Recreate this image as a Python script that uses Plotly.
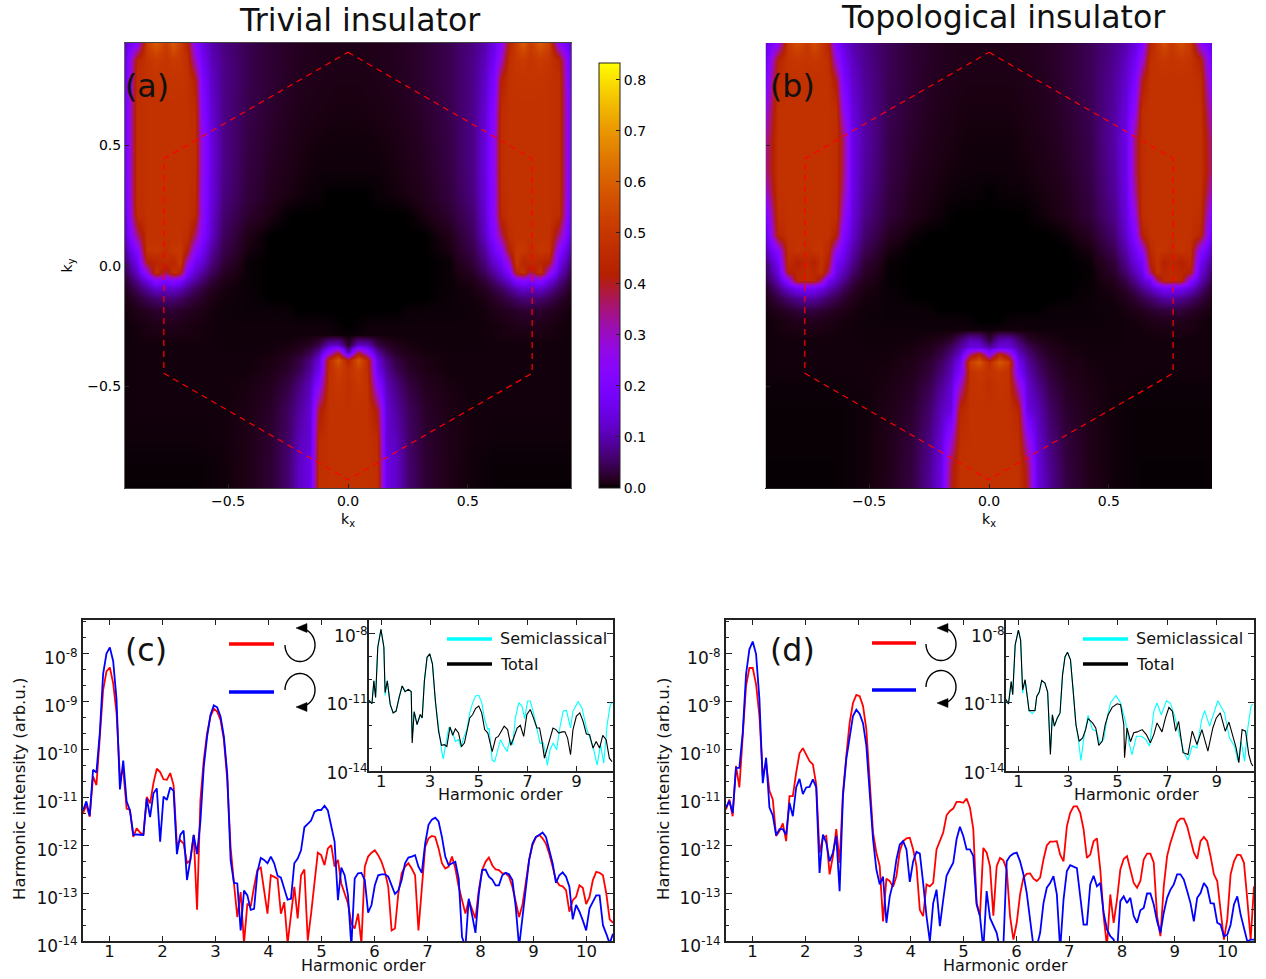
import math
import numpy as np
import plotly.graph_objects as go

W, H = 1266, 979
FONT = "DejaVu Sans"

# ---------- k-space maps (half planes, mirrored about kx = 0) ----------
kx_half = [0, .04, .08, .12, .16, .2, .25, .32, .42, .52, .57, .61, .64, .67, .7, .73, .76, .8, .84, .88, .93]
ky_a = [.925, .855, .772, .647, .523, .398, .295, .212, .129, .066, .017, -.025, -.058, -.091, -.133, -.183, -.245, -.286, -.328, -.357, -.39, -.432, -.494, -.598, -.722, -.826, -.921]
z_a = [
 [.012,.012,.012,.013,.014,.016,.020,.026,.042,.070,.100,.150,.230,.430,.520,.590,.510,.590,.520,.230,.130],
 [.011,.011,.012,.013,.014,.016,.020,.026,.042,.075,.110,.170,.300,.470,.500,.510,.490,.510,.490,.440,.140],
 [.010,.010,.011,.012,.013,.015,.019,.026,.042,.075,.120,.200,.420,.480,.490,.490,.490,.490,.480,.470,.150],
 [.008,.008,.009,.010,.011,.013,.017,.024,.040,.075,.130,.230,.460,.480,.480,.480,.480,.480,.480,.470,.170],
 [.006,.006,.006,.007,.008,.010,.014,.021,.037,.075,.140,.260,.470,.480,.480,.480,.480,.480,.480,.470,.170],
 [.005,.005,.005,.005,.006,.008,.012,.018,.035,.075,.140,.260,.470,.480,.480,.480,.480,.480,.480,.470,.170],
 [0,0,0,.003,.004,.006,.009,.015,.032,.070,.140,.250,.460,.480,.480,.480,.480,.480,.480,.470,.160],
 [0,0,0,0,0,0,.001,.009,.025,.060,.130,.250,.450,.480,.480,.480,.480,.480,.480,.460,.140],
 [0,0,0,0,0,0,0,0,.012,.050,.120,.220,.360,.470,.480,.480,.480,.480,.480,.350,.120],
 [0,0,0,0,0,0,0,0,.008,.040,.090,.170,.240,.420,.500,.500,.470,.500,.490,.220,.090],
 [0,0,0,0,0,0,0,0,.003,.030,.070,.130,.170,.300,.500,.440,.460,.440,.420,.160,.060],
 [0,0,0,0,0,0,0,0,.003,.020,.050,.090,.130,.200,.440,.480,.380,.480,.280,.120,.040],
 [0,0,0,0,0,0,0,0,.003,.012,.030,.060,.090,.130,.200,.240,.200,.240,.150,.080,.025],
 [0,0,0,0,0,0,0,0,.003,.008,.018,.035,.050,.080,.110,.130,.120,.130,.090,.050,.016],
 [0,0,0,0,0,0,0,0,.004,.006,.010,.020,.028,.040,.055,.065,.065,.060,.045,.025,.010],
 [0,0,0,0,0,0,.003,.004,.004,.005,.007,.011,.014,.018,.022,.026,.026,.024,.018,.012,.006],
 [0,.002,.004,.005,.005,.005,.005,.005,.005,.005,.006,.007,.008,.010,.012,.013,.013,.012,.010,.007,.005],
 [.003,.005,.006,.006,.006,.005,.005,.005,.005,.005,.006,.007,.008,.008,.009,.009,.009,.009,.008,.007,.005],
 [.020,.120,.110,.040,.020,.012,.008,.006,.005,.005,.006,.006,.006,.006,.006,.006,.006,.006,.006,.006,.005],
 [.090,.380,.250,.090,.040,.020,.011,.007,.006,.006,.006,.006,.006,.006,.006,.006,.006,.006,.006,.006,.005],
 [.420,.580,.460,.140,.070,.035,.018,.009,.006,.006,.006,.006,.006,.006,.006,.006,.006,.006,.006,.006,.005],
 [.480,.520,.470,.160,.085,.045,.022,.011,.006,.006,.006,.006,.006,.006,.006,.006,.006,.006,.006,.006,.005],
 [.470,.500,.480,.240,.110,.070,.035,.016,.008,.006,.006,.006,.006,.006,.006,.006,.006,.006,.006,.006,.005],
 [.480,.480,.480,.400,.130,.090,.050,.022,.010,.006,.006,.006,.006,.006,.006,.006,.006,.006,.006,.006,.005],
 [.480,.480,.480,.460,.130,.110,.055,.025,.011,.006,.006,.005,.005,.005,.005,.005,.005,.005,.005,.005,.005],
 [.480,.480,.480,.470,.150,.120,.060,.027,.011,.005,.004,.003,.003,.003,.003,.003,.003,.003,.003,.003,.003],
 [.480,.480,.480,.480,.150,.120,.060,.027,.011,.005,.004,.003,.002,.002,.002,.002,.002,.002,.002,.002,.002],
]
ky_b = [.925, .855, .772, .647, .523, .398, .315, .212, .129, .066, .017, -.025, -.058, -.091, -.133, -.183, -.224, -.266, -.307, -.336, -.365, -.398, -.44, -.494, -.598, -.722, -.826, -.921]
z_b = [
 [.012,.012,.012,.013,.014,.016,.020,.027,.045,.075,.100,.140,.200,.430,.500,.560,.500,.560,.500,.250,.140],
 [.011,.011,.012,.013,.014,.016,.020,.027,.045,.080,.115,.170,.280,.470,.490,.500,.490,.500,.490,.430,.160],
 [.010,.010,.010,.011,.013,.015,.019,.027,.045,.085,.125,.200,.400,.480,.480,.480,.480,.480,.480,.470,.200],
 [.008,.008,.008,.009,.011,.013,.017,.025,.043,.090,.140,.260,.470,.480,.480,.480,.480,.480,.480,.480,.280],
 [.006,.006,.006,.007,.009,.011,.015,.022,.040,.095,.150,.360,.470,.480,.480,.480,.480,.480,.480,.480,.340],
 [.005,.005,.005,.006,.007,.009,.012,.019,.038,.090,.150,.360,.470,.480,.480,.480,.480,.480,.480,.480,.350],
 [.001,.003,.004,.004,.005,.007,.010,.016,.035,.085,.150,.340,.470,.480,.480,.480,.480,.480,.480,.480,.300],
 [0,0,0,0,.001,.004,.007,.013,.030,.075,.140,.280,.470,.480,.480,.480,.480,.480,.480,.470,.200],
 [0,0,0,0,0,0,0,.004,.018,.060,.125,.220,.420,.480,.480,.480,.480,.480,.480,.440,.140],
 [0,0,0,0,0,0,0,0,.008,.045,.100,.170,.260,.450,.490,.490,.470,.490,.470,.240,.100],
 [0,0,0,0,0,0,0,0,.003,.030,.080,.140,.180,.420,.480,.420,.450,.420,.460,.170,.070],
 [0,0,0,0,0,0,0,0,.002,.022,.060,.110,.150,.360,.480,.440,.460,.440,.420,.140,.050],
 [0,0,0,0,0,0,0,0,.002,.015,.040,.080,.120,.170,.360,.450,.460,.450,.240,.110,.035],
 [0,0,0,0,0,0,0,0,.003,.010,.025,.050,.080,.110,.150,.180,.180,.170,.130,.070,.020],
 [0,0,0,0,0,0,0,.001,.004,.007,.014,.025,.040,.055,.075,.090,.095,.080,.060,.035,.012],
 [0,0,0,0,0,0,.003,.004,.004,.005,.008,.012,.016,.022,.028,.032,.032,.030,.022,.014,.007],
 [0,0,.003,.004,.004,.004,.004,.004,.004,.005,.006,.007,.009,.011,.013,.015,.015,.014,.011,.008,.005],
 [.004,.006,.006,.006,.005,.005,.005,.005,.005,.005,.006,.006,.007,.008,.009,.010,.010,.010,.009,.007,.005],
 [.030,.100,.110,.060,.024,.014,.009,.006,.005,.005,.006,.006,.006,.006,.006,.006,.006,.006,.006,.006,.005],
 [.090,.140,.140,.090,.050,.026,.014,.008,.006,.006,.006,.006,.006,.006,.006,.006,.006,.006,.006,.006,.005],
 [.240,.440,.340,.120,.070,.035,.018,.009,.006,.006,.006,.006,.006,.006,.006,.006,.006,.006,.006,.006,.005],
 [.460,.580,.520,.170,.090,.050,.025,.012,.007,.006,.006,.006,.006,.006,.006,.006,.006,.006,.006,.006,.005],
 [.480,.500,.480,.200,.105,.062,.030,.014,.008,.006,.006,.006,.006,.006,.006,.006,.006,.006,.006,.006,.005],
 [.470,.490,.480,.300,.125,.080,.040,.018,.009,.006,.006,.005,.005,.004,.004,.004,.004,.004,.004,.004,.004],
 [.480,.480,.480,.440,.145,.110,.055,.024,.011,.005,.004,.003,.003,.003,.003,.003,.003,.003,.003,.003,.003],
 [.480,.480,.480,.470,.280,.130,.070,.030,.012,.005,.004,.003,.003,.003,.003,.003,.003,.003,.003,.003,.003],
 [.480,.480,.480,.480,.380,.140,.080,.033,.012,.005,.004,.003,.002,.002,.002,.002,.002,.002,.002,.002,.002],
 [.480,.480,.480,.480,.400,.145,.085,.035,.013,.005,.004,.003,.002,.002,.002,.002,.002,.002,.002,.002,.002],
]
hex_kx = [0, .768, .768, 0, -.768, -.768, 0]
hex_ky = [.887, .445, -.445, -.887, -.445, .445, .887]

# ---------- harmonic spectra: log10(intensity), evenly spaced over orders 0.5-10.5 ----------
c_red = [-11.34,-11.17,-11.41,-10.57,-10.75,-9.74,-8.77,-8.38,-8.30,-8.63,-9.25,-10.57,-10.44,-11.24,-11.27,-11.83,-11.65,-11.74,-11.79,-11.0,-11.13,-10.71,-10.41,-10.48,-10.63,-10.64,-10.5,-10.75,-12.0,-11.9,-11.97,-12.38,-12.31,-11.79,-13.35,-11.06,-10.23,-9.67,-9.32,-9.16,-9.22,-9.39,-9.81,-10.64,-12.04,-12.8,-13.5,-12.98,-14.05,-13.22,-13.28,-12.87,-12.52,-12.47,-12.91,-13.43,-12.63,-12.66,-12.7,-13.43,-13.19,-14.05,-13.43,-12.87,-13.53,-12.63,-12.51,-13.99,-13.43,-12.8,-12.16,-12.21,-12.42,-12.07,-12.0,-12.45,-12.31,-12.8,-13.01,-13.22,-13.64,-13.74,-13.43,-14.05,-12.45,-12.24,-12.16,-12.11,-12.21,-12.35,-12.56,-12.87,-13.78,-13.74,-13.01,-12.59,-12.45,-12.38,-12.49,-12.63,-13.78,-12.94,-12.04,-11.86,-11.81,-11.83,-12.07,-12.38,-12.49,-12.45,-12.24,-12.49,-12.87,-13.15,-13.43,-13.15,-13.36,-13.53,-12.94,-12.52,-12.35,-12.26,-12.42,-12.51,-12.52,-12.59,-12.59,-12.66,-12.87,-13.19,-13.5,-13.25,-12.73,-12.31,-12.0,-11.84,-11.79,-11.86,-11.97,-12.18,-12.45,-12.73,-12.84,-12.86,-12.94,-13.39,-13.15,-13.08,-12.84,-12.89,-13.23,-13.08,-12.73,-12.56,-12.58,-12.63,-13.01,-13.55,-13.62]
c_blue = [-11.28,-11.09,-11.39,-10.43,-10.49,-9.67,-8.43,-8.01,-7.88,-8.17,-8.97,-10.84,-10.24,-11.09,-11.28,-11.79,-11.78,-11.79,-11.79,-11.03,-11.42,-10.92,-10.82,-11.93,-10.99,-11.06,-10.80,-10.87,-12.19,-11.79,-11.70,-12.73,-12.31,-11.79,-12.19,-11.51,-10.37,-9.74,-9.29,-9.09,-9.13,-9.32,-9.74,-10.51,-12.31,-12.79,-12.80,-13.78,-12.95,-13.05,-13.35,-13.33,-12.56,-12.27,-12.31,-12.38,-12.24,-12.38,-12.64,-12.68,-12.94,-13.14,-13.12,-12.38,-12.28,-12.11,-11.63,-11.56,-11.49,-11.31,-11.27,-11.27,-11.18,-11.28,-11.62,-11.93,-13.15,-12.47,-12.63,-13.05,-14.12,-12.70,-12.59,-12.58,-12.73,-13.41,-13.25,-12.84,-12.63,-12.61,-12.61,-12.66,-12.84,-13.02,-12.95,-12.73,-12.38,-12.26,-12.24,-12.21,-12.45,-12.58,-11.97,-11.58,-11.47,-11.43,-11.51,-11.83,-12.24,-12.42,-12.38,-12.35,-12.70,-13.92,-14.12,-13.12,-13.46,-13.83,-13.01,-12.52,-12.51,-12.66,-12.72,-12.84,-12.84,-12.63,-12.58,-12.61,-12.73,-13.29,-14.12,-13.5,-12.8,-12.31,-11.97,-11.83,-11.79,-11.74,-11.83,-12.11,-12.38,-12.79,-12.63,-12.57,-12.66,-12.87,-13.55,-13.25,-13.39,-13.57,-13.78,-13.32,-13.18,-13.05,-13.05,-13.67,-13.85,-14.05,-13.85]
d_red = [-11.26,-11.05,-11.4,-10.35,-10.8,-9.76,-8.68,-8.31,-8.31,-8.65,-9.31,-10.56,-10.28,-10.87,-11.05,-11.81,-11.71,-11.55,-11.92,-10.98,-10.98,-10.49,-10.09,-9.98,-10.11,-10.25,-10.32,-10.74,-12.16,-11.85,-11.81,-12.61,-12.23,-11.67,-12.37,-10.91,-10.14,-9.45,-9.04,-8.87,-8.9,-9.1,-9.59,-10.56,-11.74,-12.16,-12.44,-13.59,-12.7,-12.75,-12.87,-12.65,-12.13,-11.92,-11.86,-11.85,-12.09,-12.44,-13.35,-13.48,-12.82,-12.86,-12.79,-12.09,-11.92,-11.74,-11.38,-11.29,-11.24,-11.1,-11.1,-11.12,-11.03,-11.22,-11.67,-13.21,-13.48,-12.06,-12.16,-12.44,-13.47,-12.44,-12.27,-12.32,-12.51,-13.48,-13.97,-13.62,-13.03,-12.68,-12.6,-12.59,-12.7,-12.75,-12.68,-12.3,-12.01,-11.93,-11.93,-11.92,-12.2,-12.34,-11.61,-11.33,-11.2,-11.19,-11.33,-11.67,-12.27,-12.2,-11.92,-11.86,-12.51,-13.48,-14.11,-13.03,-13.62,-13.14,-12.51,-12.29,-12.23,-12.54,-12.79,-12.89,-12.75,-12.3,-12.18,-12.18,-12.37,-13.48,-13.9,-12.86,-12.23,-11.95,-11.71,-11.52,-11.45,-11.45,-11.61,-11.88,-12.16,-12.29,-11.92,-11.83,-11.92,-12.23,-12.61,-12.75,-13.35,-13.97,-13.55,-12.61,-12.34,-12.2,-12.21,-12.37,-13.14,-13.97,-12.86]
d_blue = [-11.22,-11.08,-11.33,-10.39,-10.39,-9.66,-8.44,-7.92,-7.76,-8.02,-8.96,-10.71,-10.18,-11.22,-11.38,-11.80,-11.67,-11.67,-11.78,-11.12,-11.40,-10.8,-10.62,-10.94,-10.8,-10.79,-10.63,-10.8,-12.58,-11.78,-11.95,-12.34,-12.16,-11.81,-12.96,-10.98,-10.21,-9.73,-9.31,-9.18,-9.27,-9.46,-9.93,-10.91,-11.88,-12.51,-12.82,-12.66,-13.62,-13.07,-12.79,-12.30,-11.99,-11.92,-12.09,-12.77,-12.34,-12.14,-12.18,-12.79,-13.48,-14.01,-13.21,-12.93,-13.69,-13.14,-12.64,-12.5,-12.37,-11.88,-11.62,-11.81,-12.09,-12.09,-12.23,-13.24,-13.48,-14.18,-12.96,-13.52,-13.66,-13.83,-14.18,-14.11,-12.34,-12.23,-12.18,-12.16,-12.34,-12.61,-13.0,-13.55,-14.11,-14.11,-13.83,-13.21,-12.89,-12.79,-12.65,-13.03,-14.18,-13.14,-12.54,-12.42,-12.45,-12.48,-13.07,-13.66,-13.66,-12.82,-12.64,-12.86,-12.79,-13.41,-13.76,-13.9,-13.97,-14.25,-13.17,-13.07,-13.21,-13.1,-13.48,-13.62,-13.36,-13.31,-13.01,-13.01,-13.24,-13.59,-13.83,-13.41,-13.1,-12.93,-12.82,-12.61,-12.61,-12.72,-12.96,-13.21,-13.59,-13.1,-13.0,-12.79,-12.89,-13.21,-13.22,-13.62,-13.66,-13.9,-13.87,-13.66,-13.24,-13.07,-13.45,-13.73,-14.01,-13.97,-13.97]

# ---------- inset spectra ----------
ci_total_x = [.50,.62,.70,.77,.86,.99,1.11,1.16,1.25,1.37,1.49,1.61,1.74,1.86,1.98,2.11,2.23,2.27,2.35,2.47,2.60,2.68,2.77,2.88,2.99,3.10,3.22,3.35,3.47,3.59,3.69,3.82,3.93,4.04,4.17,4.29,4.41,4.51,4.63,4.75,4.87,5.0,5.12,5.24,5.37,5.55,5.69,5.8,5.92,6.04,6.18,6.31,6.43,6.57,6.7,6.84,6.97,7.11,7.24,7.38,7.49,7.58,7.69,7.8,7.92,8.04,8.16,8.28,8.41,8.53,8.64,8.76,8.86,9.0,9.14,9.27,9.41,9.54,9.68,9.81,9.95,10.08,10.22,10.35,10.46]
ci_total_y = [-10.91,-11.06,-10.06,-10.79,-8.59,-7.81,-8.59,-10.57,-10.06,-11.09,-11.46,-11.38,-10.76,-10.28,-10.53,-10.43,-10.53,-12.78,-11.41,-11.97,-11.53,-11.68,-10.06,-9.03,-8.88,-9.32,-10.94,-12.26,-12.88,-12.85,-12.93,-12.07,-12.44,-12.16,-12.34,-12.93,-12.78,-12.22,-11.68,-11.53,-11.26,-11.16,-11.46,-12.19,-12.34,-13.15,-12.56,-12.49,-12.26,-12.04,-12.19,-12.88,-12.56,-12.12,-12.0,-12.49,-11.53,-11.31,-11.68,-12.12,-12.12,-12.63,-13.44,-13.0,-12.56,-12.12,-12.19,-12.34,-12.29,-12.29,-12.56,-13.29,-12.19,-11.6,-11.46,-11.82,-12.38,-12.41,-13.0,-12.71,-13.0,-12.44,-12.63,-13.44,-13.59]
ci_semi_x = [.50,.62,.70,.77,.86,.99,1.11,1.16,1.25,1.37,1.49,1.61,1.74,1.86,1.98,2.11,2.23,2.27,2.35,2.47,2.60,2.68,2.77,2.88,2.99,3.10,3.22,3.35,3.47,3.54,3.63,3.77,3.91,4.04,4.17,4.27,4.4,4.51,4.63,4.75,4.87,5.0,5.12,5.24,5.37,5.42,5.55,5.65,5.76,5.89,6.03,6.16,6.27,6.39,6.5,6.64,6.77,6.88,7.0,7.11,7.24,7.38,7.51,7.65,7.81,7.92,8.05,8.19,8.32,8.46,8.59,8.76,8.86,9.07,9.23,9.41,9.54,9.68,9.85,9.99,10.12,10.26,10.39,10.49]
ci_semi_y = [-10.91,-11.06,-10.06,-10.79,-8.59,-7.81,-8.59,-10.7,-10.06,-11.09,-11.46,-11.38,-10.76,-10.28,-10.53,-10.43,-10.53,-12.6,-11.41,-11.97,-11.53,-11.68,-10.06,-9.03,-8.88,-9.32,-10.94,-12.19,-13.07,-13.47,-12.93,-12.09,-12.26,-12.71,-12.63,-12.97,-12.49,-12.19,-11.46,-11.01,-10.72,-10.69,-11.01,-11.75,-12.19,-12.12,-13.54,-13.59,-13.15,-12.63,-12.93,-13.15,-12.63,-12.85,-11.68,-11.01,-11.16,-11.71,-10.94,-10.94,-11.46,-12.12,-12.78,-12.78,-13.74,-13.07,-12.78,-13.07,-12.12,-11.38,-11.35,-12.12,-11.38,-10.97,-11.24,-12.12,-12.49,-12.93,-13.74,-12.85,-13.66,-11.97,-11.09,-11.01]
di_total_x = [.50,.60,.71,.77,.87,1.0,1.09,1.17,1.27,1.43,1.56,1.67,1.74,1.84,1.94,2.07,2.18,2.29,2.37,2.45,2.57,2.68,2.78,2.88,2.98,3.1,3.21,3.32,3.45,3.59,3.71,3.81,3.99,4.12,4.24,4.38,4.5,4.62,4.78,4.98,5.12,5.25,5.28,5.38,5.52,5.65,5.79,5.99,6.16,6.32,6.46,6.59,6.79,6.93,7.07,7.21,7.34,7.46,7.64,7.84,8.01,8.2,8.4,8.64,8.84,8.98,9.14,9.34,9.49,9.65,9.78,9.89,10.02,10.16,10.29,10.38,10.45]
di_total_y = [-10.88,-11.07,-10.09,-10.67,-8.49,-7.84,-8.28,-10.45,-10.01,-11.36,-11.36,-11.35,-10.74,-10.55,-10.04,-10.16,-10.55,-13.28,-11.54,-12.04,-11.68,-11.46,-9.8,-9.0,-8.81,-9.14,-10.52,-11.97,-12.7,-12.55,-12.19,-11.71,-11.9,-12.12,-12.88,-12.7,-11.97,-11.54,-11.22,-11.06,-11.1,-11.97,-13.42,-12.12,-12.72,-12.33,-12.29,-12.19,-12.41,-12.77,-12.41,-11.9,-12.29,-11.68,-11.22,-11.39,-12.26,-11.83,-13.2,-13.28,-12.26,-12.84,-12.19,-13.13,-12.12,-11.68,-11.46,-12.26,-11.86,-12.55,-12.99,-13.64,-12.19,-12.26,-13.28,-13.64,-13.78]
di_semi_x = [.50,.60,.71,.77,.87,1.0,1.09,1.17,1.27,1.43,1.56,1.67,1.74,1.84,1.94,2.07,2.18,2.29,2.37,2.45,2.57,2.68,2.78,2.88,2.98,3.1,3.21,3.32,3.41,3.52,3.64,3.81,3.99,4.15,4.28,4.44,4.58,4.71,4.93,5.12,5.33,5.46,5.58,5.76,5.96,6.13,6.29,6.46,6.59,6.76,6.97,7.13,7.3,7.5,7.68,7.84,8.01,8.2,8.39,8.51,8.71,9.04,9.31,9.51,9.71,9.86,9.98,10.12,10.25,10.38,10.45]
di_semi_y = [-10.88,-11.07,-10.09,-10.67,-8.49,-7.84,-8.28,-10.6,-10.01,-11.36,-11.5,-11.35,-10.74,-10.55,-10.04,-10.16,-10.55,-13.1,-11.54,-12.04,-11.68,-11.46,-9.8,-9.0,-8.81,-9.14,-10.52,-11.97,-12.55,-13.54,-12.55,-11.57,-12.19,-12.26,-12.77,-12.62,-11.68,-11.03,-10.7,-11.03,-11.9,-12.77,-13.28,-12.48,-12.48,-12.62,-12.91,-11.39,-11.03,-11.54,-10.93,-11.03,-11.61,-12.48,-13.2,-13.52,-12.91,-12.99,-11.75,-11.36,-12.04,-10.93,-11.46,-12.55,-12.91,-13.59,-12.7,-13.57,-12.12,-11.17,-11.07]

major_main = [-14, -13, -12, -11, -10, -9, -8]
major_inset = [-14, -11, -8]
bottom_ticks = list(range(1, 11))
inset_ticks = [1, 3, 5, 7, 9]
cbar_ticks = [0, .1, .2, .3, .4, .5, .6, .7, .8]


# ---------- helpers ----------
def px(x):
    return x / W


def py(y):
    return 1 - y / H


def mirror(rows):
    return [r[:0:-1] + r for r in rows]


def gnuplot_scale(n=96):
    stops = []
    for i in range(n + 1):
        t = i / n
        r = math.sqrt(t)
        g = t ** 3
        b = max(0.0, math.sin(2 * math.pi * t))
        stops.append([t, f"rgb({round(255 * r)},{round(255 * g)},{round(255 * b)})"])
    return stops


def sup(e):
    return f"10<sup>{e}</sup>"


kx_full = [-k for k in kx_half[:0:-1]] + kx_half
fig = go.Figure()

# ---------- traces ----------
for name, z, ky, xa, ya in [("a", z_a, ky_a, "x", "y"), ("b", z_b, ky_b, "x2", "y2")]:
    fig.add_trace(go.Heatmap(x=kx_full, y=ky, z=mirror(z), zsmooth="best", coloraxis="coloraxis",
                             xaxis=xa, yaxis=ya, name=name))
    fig.add_trace(go.Scatter(x=hex_kx, y=hex_ky, mode="lines", xaxis=xa, yaxis=ya, showlegend=False,
                             line=dict(color="#ff0000", width=1.2, dash="6px,5px")))


def spectrum(vals, color, name, xa, ya, width=1.8):
    x = np.linspace(0.5, 10.5, len(vals))
    fig.add_trace(go.Scatter(x=x, y=10.0 ** np.array(vals), mode="lines", name=name, xaxis=xa, yaxis=ya,
                             showlegend=False, line=dict(color=color, width=width)))


def inset_line(xv, yv, color, name, xa, ya):
    fig.add_trace(go.Scatter(x=xv, y=10.0 ** np.array(yv), mode="lines", name=name, xaxis=xa, yaxis=ya,
                             showlegend=False, line=dict(color=color, width=1.1)))


spectrum(c_red, "#ff0000", "left circular", "x3", "y3")
spectrum(c_blue, "#0000ff", "right circular", "x3", "y3")
inset_line(ci_semi_x, ci_semi_y, "#00ffff", "Semiclassical", "x4", "y4")
inset_line(ci_total_x, ci_total_y, "#000000", "Total", "x4", "y4")
spectrum(d_red, "#ff0000", "left circular", "x5", "y5")
spectrum(d_blue, "#0000ff", "right circular", "x5", "y5")
inset_line(di_semi_x, di_semi_y, "#00ffff", "Semiclassical", "x6", "y6")
inset_line(di_total_x, di_total_y, "#000000", "Total", "x6", "y6")

# ---------- axes ----------
def map_axes(l, r, t, b, xline, yline, yanchor, xanchor, ytitle=None):
    xk = dict(domain=[px(l), px(r)], anchor=yanchor, range=[-.93, .93],
              tickmode="array", tickvals=[-.5, 0, .5], ticktext=["\u22120.5", "0.0", "0.5"], ticks="inside", ticklen=4,
              tickcolor="#222", tickfont=dict(family=FONT, size=14, color="#000"), showgrid=False, zeroline=False,
              showline=True, linecolor=xline, linewidth=1, mirror=False,
              title=dict(text="k<sub>x</sub>", font=dict(family=FONT, size=14, color="#000"), standoff=6))
    yk = dict(domain=[py(b), py(t)], anchor=xanchor, range=[-.921, .925], tickmode="array", tickvals=[-.5, 0, .5],
              ticktext=["\u22120.5", "0.0", "0.5"], showticklabels=bool(ytitle), ticks="inside", ticklen=4, tickcolor="#222",
              tickfont=dict(family=FONT, size=14, color="#000"), showgrid=False, zeroline=False,
              showline=True, linecolor=yline, linewidth=1, mirror=False)
    if ytitle:
        yk["title"] = dict(text=ytitle, font=dict(family=FONT, size=14, color="#000"), standoff=11)
    return xk, yk


xa1, ya1 = map_axes(125, 571, 43, 488, "#444", "#666", "y", "x", "k<sub>y</sub>")
xa1["mirror"] = True
ya1["mirror"] = True
xa2, ya2 = map_axes(766, 1212, 43, 488, "#222", "#ccc", "y2", "x2")


def spec_axes(l, r, t, b, xticks, majors, top, yanchor, xanchor, shift, inset=False):
    xk = dict(domain=[px(l), px(r)], anchor=yanchor, range=[.5, 10.5], tickmode="array", tickvals=xticks,
              ticktext=[str(v) for v in xticks], ticks="inside", ticklen=5, tickcolor="#222", tickwidth=1,
              ticklabelstandoff=-6, tickfont=dict(family=FONT, size=16.5, color="#111"), showgrid=False, zeroline=False,
              showline=True, linecolor="#222", linewidth=2, mirror="allticks")
    if inset:
        minor_vals = [10.0 ** e for e in range(-13, -7) if e not in majors]
    else:
        minor_vals = [10.0 ** (e + s) for e in range(-14, -7) for s in (1 / 3, 2 / 3)]
    yk = dict(domain=[py(b), py(t)], anchor=xanchor, type="log", range=[-14, top], tickmode="array",
              tickvals=[10.0 ** e for e in majors], ticktext=[sup(e) for e in majors], ticks="inside", ticklen=6,
              tickcolor="#222", tickwidth=1, tickfont=dict(family=FONT, size=17, color="#111"), ticklabelshift=shift,
              ticklabelstandoff=-4 if inset else 0,
              showgrid=False, zeroline=False, showline=True, linecolor="#222", linewidth=2, mirror="allticks",
              minor=dict(tickmode="array", tickvals=minor_vals, ticks="inside", ticklen=3, tickcolor="#222", showgrid=False))
    return xk, yk


xa3, ya3 = spec_axes(83, 613, 620, 941, bottom_ticks, major_main, -7.31, "y3", "x3", 5)
xa4, ya4 = spec_axes(369, 613, 620, 771, inset_ticks, major_inset, -7.4, "y4", "x4", 2, inset=True)
xa5, ya5 = spec_axes(726, 1254, 620, 941, bottom_ticks, major_main, -7.31, "y5", "x5", 5)
xa6, ya6 = spec_axes(1006, 1254, 620, 771, inset_ticks, major_inset, -7.4, "y6", "x6", 2, inset=True)

# ---------- text and decorations ----------
annotations = []


def text(s, x, y, size, anchor="left", angle=0):
    annotations.append(dict(text=s, x=px(x), y=py(y), xref="paper", yref="paper", xanchor=anchor, yanchor="middle",
                            showarrow=False, textangle=angle, font=dict(family=FONT, size=size, color="#111")))


text("Trivial insulator", 359, 20, 31.6, "center")
text("Topological insulator", 1003, 17, 31.6, "center")
text("(a)", 123, 86, 31.6)
text("(b)", 768, 86, 31.6)
text("(c)", 123, 650, 31.6)
text("(d)", 768, 650, 31.6)
text("Harmonic order", 363, 965, 16, "center")
text("Harmonic order", 500, 794, 16, "center")
text("Harmonic order", 1006, 965, 16, "center")
text("Harmonic order", 1136, 794, 16, "center")
text("Harmonic intensity (arb.u.)", 19, 789, 16.5, "center", -90)
text("Harmonic intensity (arb.u.)", 663, 789, 16.5, "center", -90)

shapes = []


def bar(x0, x1, y, color):
    shapes.append(dict(type="line", xref="paper", yref="paper", x0=px(x0), x1=px(x1), y0=py(y), y1=py(y),
                       line=dict(color=color, width=3.5)))


def arc(cx, cy, rx, ry, a0, a1, tip, base_x, base_half):
    pts = [(cx + rx * math.cos(math.radians(a)), cy + ry * math.sin(math.radians(a)))
           for a in np.linspace(a0, a1, 48)]
    path = "M " + " L ".join(f"{px(x):.5f},{py(y):.5f}" for x, y in pts)
    shapes.append(dict(type="path", xref="paper", yref="paper", path=path, line=dict(color="#000", width=1.4)))
    tri = (f"M {px(tip[0]):.5f},{py(tip[1]):.5f} L {px(base_x):.5f},{py(tip[1] - base_half):.5f} "
           f"L {px(base_x):.5f},{py(tip[1] + base_half):.5f} Z")
    shapes.append(dict(type="path", xref="paper", yref="paper", path=tri, fillcolor="#000", line=dict(color="#000", width=.5)))


bar(229, 274, 644, "#ff0000")
bar(229, 274, 692, "#0000ff")
arc(300, 645, 15, 16.5, -75, 180, (296, 628), 307, 4.5)
arc(300, 690, 15, 16.5, 180, 435, (296, 707), 307, 4.5)
bar(872, 916, 643, "#ff0000")
bar(872, 916, 690, "#0000ff")
arc(941, 644, 15, 16.5, -75, 180, (937, 628), 948, 4.5)
arc(941, 687, 15, 16.5, 180, 435, (937, 703), 948, 4.5)

bar(447, 492, 639, "#00ffff")
bar(447, 492, 664, "#000000")
text("Semiclassical", 497.5, 638, 16)
text("Total", 497.5, 664, 16)
bar(1083, 1128, 639, "#00ffff")
bar(1083, 1128, 664, "#000000")
text("Semiclassical", 1133.5, 638, 16)
text("Total", 1133.5, 664, 16)

fig.update_layout(
    width=W, height=H, autosize=False, margin=dict(l=0, r=0, t=0, b=0, autoexpand=False),
    paper_bgcolor="white", plot_bgcolor="white",
    showlegend=False, font=dict(family=FONT, color="#111"),
    coloraxis=dict(cmin=0, cmax=.833, colorscale=gnuplot_scale(),
                   colorbar=dict(x=px(599), xanchor="left", xpad=0, y=py(488), yanchor="bottom", ypad=0,
                                 len=(488 - 63) / H, lenmode="fraction", thickness=21, thicknessmode="pixels",
                                 tickmode="array", tickvals=cbar_ticks, ticktext=[f"{v:.1f}" for v in cbar_ticks],
                                 ticks="inside", ticklen=4, tickcolor="#222",
                                 tickfont=dict(family=FONT, size=14, color="#000"), outlinecolor="#222", outlinewidth=1)),
    xaxis=xa1, yaxis=ya1, xaxis2=xa2, yaxis2=ya2, xaxis3=xa3, yaxis3=ya3,
    xaxis4=xa4, yaxis4=ya4, xaxis5=xa5, yaxis5=ya5, xaxis6=xa6, yaxis6=ya6,
    annotations=annotations, shapes=shapes,
)

fig.write_html("out.html", config={"displayModeBar": False},
               post_script="document.body.style.margin='0';document.body.style.overflow='hidden';")
